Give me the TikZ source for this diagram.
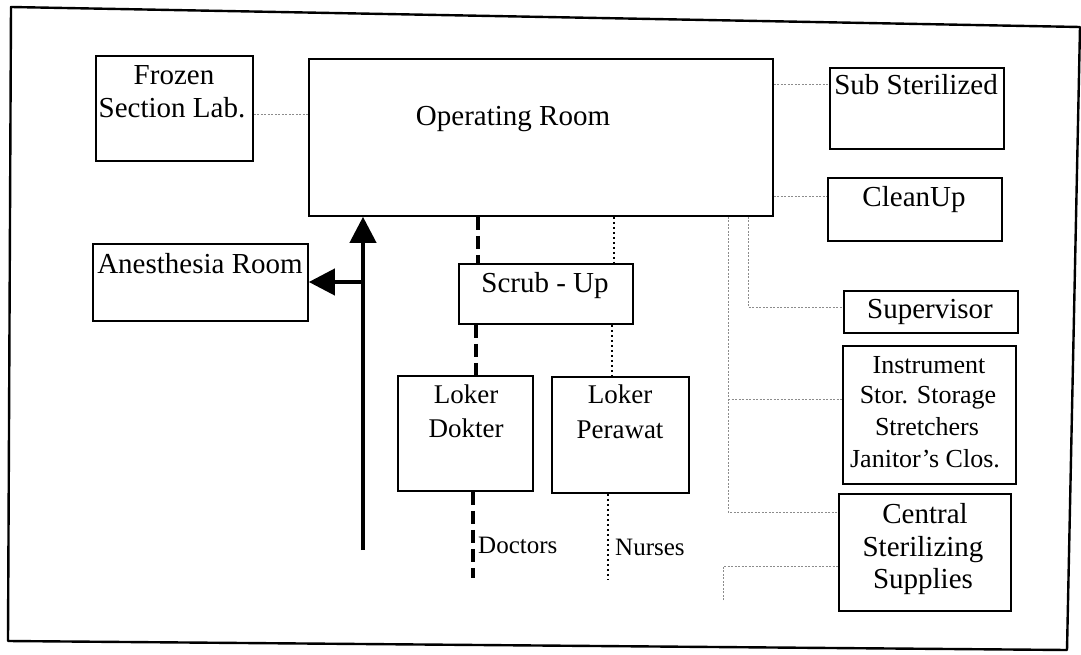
\documentclass[tikz,border=0pt]{standalone}
\usepackage{fontspec}
\setmainfont{Liberation Serif}
\usetikzlibrary{arrows.meta,calc}
\tikzset{
  box/.style={draw, line width=1.8pt, rectangle, inner sep=0pt, anchor=north west},
  lbl/.style={anchor=base, inner sep=0pt, font=\fontsize{29}{33}\selectfont},
  lblm/.style={anchor=base, inner sep=0pt, font=\fontsize{27}{31}\selectfont},
  lbls/.style={anchor=base, inner sep=0pt, font=\fontsize{26}{30}\selectfont},
  lblt/.style={anchor=base west, inner sep=0pt, font=\fontsize{25}{29}\selectfont},
  faint/.style={draw=black!45, line width=1pt, dash pattern=on 2pt off 1.5pt},
  dotline/.style={line width=2.5pt, dash pattern=on 2.5pt off 2.5pt},
  thickdash/.style={line width=4pt, dash pattern=on 13pt off 6pt},
  arrowline/.style={line width=4pt, -{Triangle[length=26pt,width=26pt]}},
  frame/.style={line width=2.4pt, line join=round}
}
\begin{document}
\begin{tikzpicture}[x=1pt,y=-1pt]
\useasboundingbox (0,0) rectangle (1081,655);
% outer frame
\draw[frame] (11,7) -- (1080,27) -- (1067,650) -- (8,641) -- cycle;

% boxes
\node[box, minimum width=157pt, minimum height=105pt] (fz) at (95,55) {};
\node[box, minimum width=464pt, minimum height=157pt] (or) at (308,58) {};
\node[box, minimum width=174pt, minimum height=81pt] (sub) at (829,67) {};
\node[box, minimum width=174pt, minimum height=63pt] (cu) at (827,177) {};
\node[box, minimum width=174pt, minimum height=42pt] (sup) at (843,290) {};
\node[box, minimum width=173pt, minimum height=138pt] (ins) at (842,345) {};
\node[box, minimum width=172pt, minimum height=117pt] (cen) at (838,493) {};
\node[box, minimum width=215pt, minimum height=77pt] (an) at (92,243) {};
\node[box, minimum width=174pt, minimum height=60pt] (scr) at (458,263) {};
\node[box, minimum width=135pt, minimum height=115pt] (ld) at (397,375) {};
\node[box, minimum width=137pt, minimum height=116pt] (lp) at (551,376) {};

% texts
\node[lbl] (fzt1) at (174,85) {Frozen};
\node[lbl] (fzt2) at (172,118) {Section Lab.};
\node[lbl] (ort) at (513,126) {Operating Room};
\node[lbl] (subt) at (916,95) {Sub Sterilized};
\node[lbl] (cut) at (914,207) {CleanUp};
\node[lbl] (supt) at (930,318) {Supervisor};
\node[lbls] (inst1) at (929,373) {Instrument};
\node[lbls] (inst2) at (928,403) {Stor. Storage};
\node[lbls] (inst3) at (927,435) {Stretchers};
\node[lbls] (inst4) at (925,467) {Janitor’s Clos.};
\node[lbl] (cent1) at (925,523) {Central};
\node[lbl] (cent2) at (923,556) {Sterilizing};
\node[lbl] (cent3) at (923,588) {Supplies};
\node[lbl] (ant) at (200,273) {Anesthesia Room};
\node[lbl] (scrt) at (545,292) {Scrub - Up};
\node[lblm] (ldt1) at (466,403) {Loker};
\node[lblm] (ldt2) at (466,437) {Dokter};
\node[lblm] (lpt1) at (620,403) {Loker};
\node[lblm] (lpt2) at (620,438) {Perawat};
\node[lblt] (doc) at (478,553) {Doctors};
\node[lblt] (nur) at (615,555) {Nurses};

% faint connectors
\draw[faint] ([yshift=-6.5pt]fz.east) -- ([yshift=-6.5pt]fz.east -| or.west);
\draw[faint] ([yshift=24pt]sub.west -| or.east) -- ([yshift=24pt]sub.west);
\draw[faint] ([yshift=13pt]cu.west -| or.east) -- ([yshift=13pt]cu.west);
\coordinate (c4) at (748,307);
\draw[faint] (c4 |- or.south) -- (c4) -- (c4 -| sup.west);
\coordinate (t1) at (728,399);
\coordinate (t2) at (728,512);
\draw[faint] (t2 |- or.south) -- (t2) -- (t2 -| cen.west);
\draw[faint] (t1) -- (t1 -| ins.west);
\coordinate (t3) at (723,600);
\coordinate (t4) at (723,566);
\draw[faint] (t3) -- (t4) -- (t4 -| cen.west);

% doctors path (thick dashed)
\coordinate (d1) at (478,0);
\coordinate (d2) at (476,0);
\coordinate (d3) at (473,578);
\draw[thickdash] (d1 |- or.south) -- (d1 |- scr.north);
\draw[thickdash] (d2 |- scr.south) -- (d2 |- ld.north);
\draw[thickdash] (d3 |- ld.south) -- (d3);

% nurses path (dotted)
\coordinate (n1) at (614,0);
\coordinate (n2) at (612,0);
\coordinate (n3) at (608,580);
\draw[dotline] (n1 |- or.south) -- (n1 |- scr.north);
\draw[dotline] (n2 |- scr.south) -- (n2 |- lp.north);
\draw[dotline] (n3 |- lp.south) -- (n3);

% arrows
\coordinate (a0) at (363,550);
\coordinate (a1) at (363,282);
\draw[arrowline] (a0) -- (a0 |- or.south);
\draw[arrowline] (a1) -- (a1 -| an.east);
\end{tikzpicture}
\end{document}
